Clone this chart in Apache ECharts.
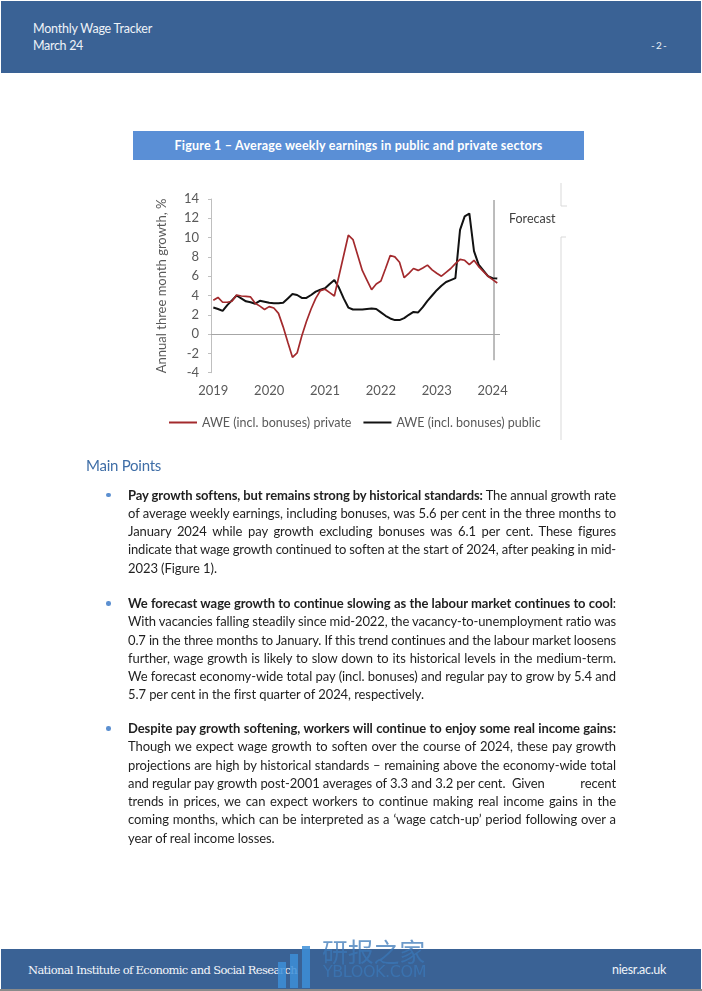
<!DOCTYPE html>
<html>
<head>
<meta charset="utf-8">
<script src="https://cdn.jsdelivr.net/npm/echarts@6/dist/echarts.min.js"></script>
<style>
  html,body{margin:0;padding:0;}
  body{width:702px;height:991px;position:relative;background:#fff;overflow:hidden;font-family:Lato,"Noto Sans",sans-serif;}
  .abs{position:absolute;white-space:nowrap;}
  #chart{position:absolute;left:0;top:0;width:702px;height:991px;}
  .band{position:absolute;left:1px;width:700px;background:#3a6295;}
  .para{position:absolute;left:128px;width:488px;font-size:13px;color:#1f1f1f;}
  .ln{height:18.3px;line-height:18.3px;white-space:nowrap;}
  .ln span.in{display:inline-block;}
  .dot{position:absolute;left:106px;width:4.5px;height:4.5px;border-radius:50%;background:#5b8fd0;}
</style>
</head>
<body>
<div id="chart"></div>

<!-- header -->
<div class="band" style="top:1px;height:72px;"></div>
<div class="abs" style="left:33px;top:20px;font-size:12.5px;color:#eef2f8;line-height:18px;"><span data-w="119">Monthly Wage Tracker</span></div>
<div class="abs" style="left:33px;top:37px;font-size:12.5px;color:#eef2f8;line-height:18px;"><span data-w="50">March 24</span></div>
<div class="abs" style="left:651px;top:38px;font-size:10px;color:#eef2f8;line-height:14px;"><span data-w="15">- 2 -</span></div>

<!-- figure title -->
<div class="abs" style="left:133px;top:131px;width:451px;height:29px;background:#5a8fd6;"></div>
<div class="abs" style="left:133px;top:131px;width:451px;height:29px;line-height:29px;text-align:center;font-size:12.5px;font-weight:bold;color:#fff;"><span data-w="368" style="display:inline-block;">Figure 1 – Average weekly earnings in public and private sectors</span></div>

<!-- main points -->
<div class="abs" style="left:86px;top:455px;font-size:15px;line-height:20px;color:#3f6ea7;"><span data-w="75" style="display:inline-block;">Main Points</span></div>

<div class="dot" style="top:492.5px;"></div>
<div class="para" style="top:485.5px;">
  <div class="ln"><span class="in" data-j="1"><b>Pay growth softens, but remains strong by historical standards:</b> The annual growth rate</span></div>
  <div class="ln"><span class="in" data-j="1">of average weekly earnings, including bonuses, was 5.6 per cent in the three months to</span></div>
  <div class="ln"><span class="in" data-j="1">January 2024 while pay growth excluding bonuses was 6.1 per cent. These figures</span></div>
  <div class="ln"><span class="in" data-j="1">indicate that wage growth continued to soften at the start of 2024, after peaking in mid-</span></div>
  <div class="ln"><span class="in" data-l="1">2023 (Figure 1).</span></div>
</div>

<div class="dot" style="top:601px;"></div>
<div class="para" style="top:594px;">
  <div class="ln"><span class="in" data-j="1"><b>We forecast wage growth to continue slowing as the labour market continues to cool</b>:</span></div>
  <div class="ln"><span class="in" data-j="1">With vacancies falling steadily since mid-2022, the vacancy-to-unemployment ratio was</span></div>
  <div class="ln"><span class="in" data-j="1">0.7 in the three months to January. If this trend continues and the labour market loosens</span></div>
  <div class="ln"><span class="in" data-j="1">further, wage growth is likely to slow down to its historical levels in the medium-term.</span></div>
  <div class="ln"><span class="in" data-j="1">We forecast economy-wide total pay (incl. bonuses) and regular pay to grow by 5.4 and</span></div>
  <div class="ln"><span class="in" data-l="1">5.7 per cent in the first quarter of 2024, respectively.</span></div>
</div>

<div class="dot" style="top:726px;"></div>
<div class="para" style="top:719px;">
  <div class="ln"><span class="in" data-j="1"><b>Despite pay growth softening, workers will continue to enjoy some real income gains:</b></span></div>
  <div class="ln"><span class="in" data-j="1">Though we expect wage growth to soften over the course of 2024, these pay growth</span></div>
  <div class="ln"><span class="in" data-j="1">projections are high by historical standards – remaining above the economy-wide total</span></div>
  <div class="ln" style="position:relative;"><span class="in" data-l="1">and regular pay growth post-2001 averages of 3.3 and 3.2 per cent.&nbsp; Given</span><span class="in" data-l="1" style="position:absolute;right:0;top:0;">recent</span></div>
  <div class="ln"><span class="in" data-j="1">trends in prices, we can expect workers to continue making real income gains in the</span></div>
  <div class="ln"><span class="in" data-j="1">coming months, which can be interpreted as a ‘wage catch-up’ period following over a</span></div>
  <div class="ln"><span class="in" data-l="1">year of real income losses.</span></div>
</div>

<!-- footer -->
<div class="band" style="top:949px;height:40px;"></div>
<div class="abs" style="left:0;top:989px;width:702px;height:2px;background:#8a8a8a;"></div>
<div class="abs" style="left:28px;top:961px;font-size:11.5px;line-height:18px;color:#f2f5fa;font-family:'DejaVu Serif','Liberation Serif',serif;"><span data-w="269" style="display:inline-block;">National Institute of Economic and Social Research</span></div>
<div class="abs" style="left:612px;top:961px;font-size:12.5px;line-height:18px;color:#eef2f8;"><span data-w="54" style="display:inline-block;">niesr.ac.uk</span></div>

<!-- watermark -->
<div class="abs" style="left:278px;top:962px;width:8px;height:26px;background:#3d8fd8;opacity:0.85;"></div>
<div class="abs" style="left:290px;top:954px;width:8px;height:34px;background:#3d8fd8;opacity:0.85;"></div>
<div class="abs" style="left:302px;top:946px;width:8px;height:42px;background:#3d8fd8;opacity:0.85;"></div>
<div class="abs" style="left:322px;top:935px;font-size:26px;line-height:32px;color:#3b78b8;opacity:0.75;font-family:'Noto Sans CJK SC',sans-serif;"><span data-w="103" style="display:inline-block;">研报之家</span></div>
<div class="abs" style="left:323px;top:962px;font-size:16px;line-height:20px;color:#3b78b8;opacity:0.75;font-family:'DejaVu Sans',sans-serif;"><span data-w="103" style="display:inline-block;">YBLOOK.COM</span></div>

<script>
// ---------------- data ----------------
const categories = [
  '2019-01','2019-02','2019-03','2019-04','2019-05','2019-06','2019-07','2019-08','2019-09','2019-10','2019-11','2019-12',
  '2020-01','2020-02','2020-03','2020-04','2020-05','2020-06','2020-07','2020-08','2020-09','2020-10','2020-11','2020-12',
  '2021-01','2021-02','2021-03','2021-04','2021-05','2021-06','2021-07','2021-08','2021-09','2021-10','2021-11','2021-12',
  '2022-01','2022-02','2022-03','2022-04','2022-05','2022-06','2022-07','2022-08','2022-09','2022-10','2022-11','2022-12',
  '2023-01','2023-02','2023-03','2023-04','2023-05','2023-06','2023-07','2023-08','2023-09','2023-10','2023-11','2023-12',
  '2024-01','2024-02'
];
const privateName = 'AWE (incl. bonuses) private';
const publicName = 'AWE (incl. bonuses) public';
const privateAWE = [
  3.5,3.8,3.3,3.3,3.4,4.05,3.95,3.9,3.85,3.2,
  2.9,2.55,2.85,2.7,2.15,0.75,-0.85,-2.4,-1.95,-0.2,
  1.3,2.6,3.7,4.5,4.65,4.3,3.95,6.05,8.15,10.25,
  9.8,8.2,6.6,5.6,4.6,5.2,5.5,6.8,8.15,8.0,
  7.45,5.85,6.3,6.8,6.6,6.85,7.15,6.65,6.3,6.0,
  6.4,6.8,7.3,7.75,7.65,7.2,7.65,7.0,6.5,6.0,
  5.65,5.3
];
const publicAWE = [
  2.75,2.6,2.4,3.0,3.5,4.0,3.7,3.4,3.3,3.15,
  3.45,3.35,3.25,3.2,3.2,3.25,3.7,4.15,4.05,3.75,
  3.75,4.05,4.4,4.6,4.75,5.2,5.6,4.8,3.7,2.75,
  2.55,2.55,2.55,2.6,2.65,2.6,2.25,1.9,1.62,1.45,
  1.45,1.65,2.0,2.3,2.25,2.8,3.45,4.0,4.55,5.0,
  5.4,5.6,5.8,10.8,12.2,12.5,8.6,7.2,6.6,6.0,
  5.8,5.75
];
const yTicks = {min:-4, max:14, interval:2};
// forecast divider, in months from Jan 2019 (band edges), and its vertical extent in %
const forecastX = 60.8;
const forecastSpan = [13.9, -2.7];
const forecastLabel = 'Forecast';
const yAxisTitle = 'Annual three month growth, %';

// ---------------- chart ----------------
const isJan = (idx, val) => String(val).endsWith('-01');
const chart = echarts.init(document.getElementById('chart'), null, {renderer:'canvas'});
const axisGrey = '#595959';
const lineIcon = 'path://M0,0 L28,0 L28,2 L0,2 Z';
chart.setOption({
  animation:false,
  backgroundColor:'transparent',
  textStyle:{fontFamily:'Lato'},
  grid:{left:211, top:199, width:288.6, height:173.7},
  legend:{
    left:164, top:411, itemWidth:28, itemHeight:2, itemGap:12,
    icon:lineIcon,
    data:[privateName, publicName],
    textStyle:{fontSize:12.5, color:axisGrey, fontFamily:'Lato'}
  },
  xAxis:[
    {type:'category', data:categories, boundaryGap:true,
     axisLine:{onZero:true, lineStyle:{color:'#a6a6a6', width:1}},
     axisTick:{interval:isJan, length:5, lineStyle:{color:'#a6a6a6'}},
     axisLabel:{show:false}, splitLine:{show:false}},
    {type:'category', data:categories, boundaryGap:true, position:'bottom',
     axisLine:{show:false, onZero:false}, axisTick:{show:false},
     axisLabel:{interval:isJan, formatter:v=>v.slice(0,4), fontSize:13, color:axisGrey, margin:12, fontFamily:'Lato'}},
    {type:'value', min:0, max:categories.length, show:false}
  ],
  yAxis:{
    type:'value', min:yTicks.min, max:yTicks.max, interval:yTicks.interval,
    axisLine:{show:true, lineStyle:{color:'#bfbfbf'}},
    axisTick:{show:true, length:3, lineStyle:{color:'#bfbfbf'}},
    axisLabel:{fontSize:13, color:axisGrey, margin:12, fontFamily:'Lato'},
    splitLine:{show:false},
    name:yAxisTitle, nameLocation:'middle', nameGap:43,
    nameTextStyle:{fontSize:13, color:axisGrey, fontFamily:'Lato'}
  },
  series:[
    {name:privateName, type:'line', data:privateAWE, xAxisIndex:0, symbol:'none',
     lineStyle:{color:'#a32a2d', width:1.7}, itemStyle:{color:'#a32a2d'}, z:3},
    {name:publicName, type:'line', data:publicAWE, xAxisIndex:0, symbol:'none',
     lineStyle:{color:'#121212', width:2}, itemStyle:{color:'#121212'}, z:2},
    {name:'forecast', type:'line', xAxisIndex:2, symbol:'none', silent:true,
     data:[[forecastX, forecastSpan[0]],[forecastX, forecastSpan[1]]],
     lineStyle:{color:'#a6a6a6', width:1.5}, z:1}
  ],
  graphic:[
    {type:'text', left:509, top:212, style:{text:forecastLabel, fontSize:12.5, fill:'#404040', fontFamily:'Lato'}},
    {type:'line', shape:{x1:561,y1:183,x2:561,y2:206}, style:{stroke:'#d9d9d9', lineWidth:1}},
    {type:'line', shape:{x1:561,y1:206,x2:567,y2:206}, style:{stroke:'#d9d9d9', lineWidth:1}},
    {type:'line', shape:{x1:561,y1:237,x2:561,y2:440}, style:{stroke:'#d9d9d9', lineWidth:1}},
    {type:'line', shape:{x1:561,y1:237,x2:566,y2:237}, style:{stroke:'#d9d9d9', lineWidth:1}}
  ]
});

// ---------------- text fitting ----------------
function fitTo(el, target){
  el.style.letterSpacing = '0px';
  const w = el.getBoundingClientRect().width;
  const n = el.textContent.length;
  el.style.letterSpacing = ((target - w) / n) + 'px';
}
document.querySelectorAll('[data-w]').forEach(el=>{
  el.style.display='inline-block';
  fitTo(el, parseFloat(el.dataset.w));
});
// calibrate body tracking from the unjustified last line of paragraph 2 (ends near x=424)
const calib = document.querySelectorAll('.para')[1].querySelectorAll('[data-l]')[0];
const cw = calib.getBoundingClientRect().width;
const baseLS = Math.max(-0.6, Math.min(0.2, (296 - cw) / calib.textContent.length));
document.querySelectorAll('.para .in').forEach(el=>{ el.style.letterSpacing = baseLS + 'px'; });
document.querySelectorAll('[data-j]').forEach(el=>{
  const W = 488;
  let w = el.getBoundingClientRect().width;
  const spaces = (el.textContent.match(/ /g)||[]).length;
  if (w > W) {
    el.style.letterSpacing = (baseLS + (W - w) / el.textContent.length) + 'px';
  } else if (spaces > 0) {
    el.style.wordSpacing = ((W - w) / spaces) + 'px';
  }
});
</script>
</body>
</html>
